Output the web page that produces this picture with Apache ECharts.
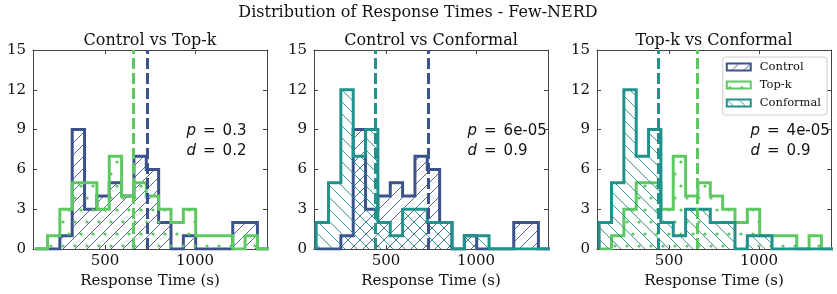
<!DOCTYPE html>
<html><head><meta charset="utf-8">
<script src="https://cdn.jsdelivr.net/npm/echarts@6/dist/echarts.min.js"></script>
<style>html,body{margin:0;padding:0;background:#fff}#c{width:837px;height:294px}</style>
</head><body><div id="c"></div>
<script>
// ---- data ----
const binStart = 112;
const binWidth = 68.6;
const controlCounts   = [0,0,1,9,3,4,5,4,7,6,2,0,1,0,0,0,2,2,0];
const topkCounts      = [0,1,3,5,5,3,7,4,5,4,3,2,3,1,1,1,0,1,0];
const conformalCounts = [2,5,12,7,9,2,1,3,3,2,2,0,1,1,0,0,0,0,0];
const controlMean = 733;
const topkMean = 655;
const conformalMean = 442;
const seriesNames = ['Control','Top-k','Conformal'];
const panelTitles = ['Control vs Top-k','Control vs Conformal','Top-k vs Conformal'];
const panelPairs = [['Control','Top-k'],['Control','Conformal'],['Top-k','Conformal']];
const pValues = ['0.3','6e-05','4e-05'];
const dValues = ['0.2','0.9','0.9'];
const xTicks = [500,1000];
const yTicks = [0,3,6,9,12,15];
const xMin = 100, xMax = 1400;
const mainTitle = 'Distribution of Response Times - Few-NERD';
const xLabel = 'Response Time (s)';

// ---- styling ----
const colors = {'Control':'#3b528b','Top-k':'#5ec962','Conformal':'#21918c'};
const hatchType = {'Control':'/','Top-k':'.','Conformal':'\\'};
const counts = {'Control':controlCounts,'Top-k':topkCounts,'Conformal':conformalCounts};
const means = {'Control':controlMean,'Top-k':topkMean,'Conformal':conformalMean};
const SERIF = 'DejaVu Serif', SANS = 'DejaVu Sans';
const spine = '#444', txt = '#111';
const gridLefts = [33, 314, 597];
const gridTop = 50, gridW = 234, gridH = 199;

function hatch(type, color){
  const c = document.createElement('canvas');
  const ctx = c.getContext('2d');
  if (type === '.') {
    c.width = 12; c.height = 24;
    ctx.fillStyle = color;
    [[3,6],[9,18]].forEach(([x,y])=>{ctx.beginPath();ctx.arc(x,y,1.6,0,Math.PI*2);ctx.fill();});
  } else {
    const s = 12; c.width = s; c.height = s;
    ctx.strokeStyle = color; ctx.lineWidth = 0.9;
    const segs = type === '/' ?
      [[0,s,s,0],[-s/2,s/2,s/2,-s/2],[s/2,s*1.5,s*1.5,s/2]] :
      [[0,0,s,s],[-s/2,s/2,s/2,s*1.5],[s/2,-s/2,s*1.5,s/2]];
    segs.forEach(([a,b,d,e])=>{ctx.beginPath();ctx.moveTo(a,b);ctx.lineTo(d,e);ctx.stroke();});
  }
  return {image:c, repeat:'repeat'};
}
const patterns = {};
seriesNames.forEach(n=>patterns[n]=hatch(hatchType[n], colors[n]));

function stepPoints(cs){
  const pts = [[binStart,0]];
  cs.forEach((v,k)=>{const a = binStart + k*binWidth; pts.push([a,v],[a+binWidth,v]);});
  pts.push([binStart + cs.length*binWidth, 0]);
  return pts;
}

const grids = [], xAxes = [], yAxes = [], series = [], graphics = [];
const richStyles = {
  it:{fontStyle:'italic', fontFamily:SANS, fontSize:15, fill:txt},
  eq:{fontFamily:SANS, fontSize:15, fill:txt, padding:[0,7,0,7]},
  v:{fontFamily:SANS, fontSize:15, fill:txt}
};
gridLefts.forEach((gl, i)=>{
  grids.push({left:gl, top:gridTop, width:gridW, height:gridH});
  const axLine = {show:true, onZero:false, lineStyle:{color:spine, width:1}};
  xAxes.push({type:'value', gridIndex:i, min:xMin, max:xMax, position:'bottom',
    axisLine:axLine, splitLine:{show:false},
    axisTick:{show:true, inside:true, length:4, customValues:xTicks, lineStyle:{color:spine}},
    axisLabel:{customValues:xTicks, formatter:v=>String(v), color:txt, fontFamily:SERIF, fontSize:15, margin:5},
    name:xLabel, nameLocation:'middle', nameGap:22,
    nameTextStyle:{color:txt, fontFamily:SERIF, fontSize:15}});
  xAxes.push({type:'value', gridIndex:i, min:xMin, max:xMax, position:'top',
    axisLine:axLine, splitLine:{show:false},
    axisTick:{show:true, inside:true, length:4, customValues:xTicks, lineStyle:{color:spine}},
    axisLabel:{show:false}});
  yAxes.push({type:'value', gridIndex:i, min:0, max:15, interval:3, position:'left',
    axisLine:axLine, splitLine:{show:false},
    axisTick:{show:true, inside:true, length:4, lineStyle:{color:spine}},
    axisLabel:{color:txt, fontFamily:SERIF, fontSize:15, margin:7}});
  yAxes.push({type:'value', gridIndex:i, min:0, max:15, interval:3, position:'right',
    axisLine:axLine, splitLine:{show:false},
    axisTick:{show:true, inside:true, length:4, lineStyle:{color:spine}},
    axisLabel:{show:false}});
  panelPairs[i].forEach((n, j)=>{
    series.push({type:'line', name:n, xAxisIndex:2*i, yAxisIndex:2*i,
      data:stepPoints(counts[n]), showSymbol:false, symbol:'none', z:2+j,
      lineStyle:{color:colors[n], width:3, join:'miter'},
      itemStyle:{color:colors[n]},
      areaStyle:{color:patterns[n], opacity:1},
      emphasis:{disabled:true}});
  });
  series.push({type:'line', xAxisIndex:2*i, yAxisIndex:2*i, data:[], z:10,
    markLine:{silent:true, symbol:'none', label:{show:false}, animation:false,
      data:panelPairs[i].map(n=>({xAxis:means[n], lineStyle:{color:colors[n], width:3, type:[11,4]}}))}});
  graphics.push({type:'text', x:gl+gridW/2, y:41, style:{text:panelTitles[i], font:'16px "DejaVu Serif"', fill:txt, textAlign:'center', textVerticalAlign:'middle'}});
  graphics.push({type:'text', x:gl+153.5, y:131, style:{text:'{it|p}{eq|=}{v|'+pValues[i]+'}', font:'15px "DejaVu Sans"', fill:txt, textVerticalAlign:'middle', rich:richStyles}});
  graphics.push({type:'text', x:gl+153.5, y:151, style:{text:'{it|d}{eq|=}{v|'+dValues[i]+'}', font:'15px "DejaVu Sans"', fill:txt, textVerticalAlign:'middle', rich:richStyles}});
});
graphics.push({type:'text', x:418, y:13, style:{text:mainTitle, font:'16px "DejaVu Serif"', fill:txt, textAlign:'center', textVerticalAlign:'middle'}});

const chart = echarts.init(document.getElementById('c'), null, {renderer:'canvas'});
chart.setOption({
  animation:false,
  backgroundColor:'#fff',
  grid:grids, xAxis:xAxes, yAxis:yAxes, series:series, graphic:graphics,
  legend:{data:seriesNames.map(n=>({name:n, icon:'rect',
      itemStyle:{color:patterns[n], borderColor:colors[n], borderWidth:2}})),
    orient:'vertical', right:10, top:57, itemWidth:24, itemHeight:7, itemGap:6,
    selectedMode:false,
    textStyle:{fontFamily:SERIF, fontSize:11.5, color:txt, padding:[0,0,0,4]},
    backgroundColor:'rgba(255,255,255,0.85)', borderColor:'#ccc', borderWidth:1, borderRadius:3,
    padding:[4,6,6,3]}
});
</script></body></html>
